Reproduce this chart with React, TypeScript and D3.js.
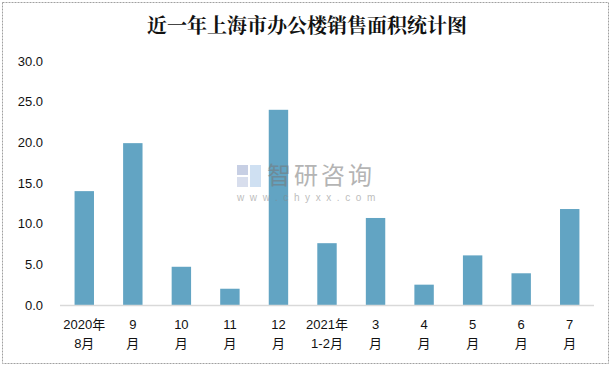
import React, { useEffect, useRef } from 'react';
import * as d3 from 'd3';

const categories = ['2020年\n8月', '9\n月', '10\n月', '11\n月', '12\n月', '2021年\n1-2月', '3\n月', '4\n月', '5\n月', '6\n月', '7\n月'];
const values = [14.0, 19.9, 4.7, 2.0, 24.0, 7.6, 10.7, 2.5, 6.1, 3.9, 11.8];
const yTicks = [0, 5, 10, 15, 20, 25, 30];
const title = '近一年上海市办公楼销售面积统计图';

const W = 614;
const H = 367;

const App = () => {
  const svgRef = useRef(null);

  useEffect(() => {
    const svg = d3.select(svgRef.current);
    svg.selectAll('*').remove();

    const left = 60, right = 594, top = 61, bottom = 305;
    const font = '"Liberation Sans", Arial, sans-serif';

    // outer frame
    svg.append('rect')
      .attr('x', 2.5).attr('y', 2.5)
      .attr('width', 606).attr('height', 361)
      .attr('fill', '#fff')
      .attr('stroke', '#a0a0a0')
      .attr('stroke-dasharray', '2,1');

    svg.append('text')
      .attr('x', W / 2).attr('y', 33)
      .attr('text-anchor', 'middle')
      .attr('font-family', '"Noto Serif CJK SC", "Noto Sans CJK SC", serif')
      .attr('font-weight', 'bold')
      .attr('font-size', 20)
      .attr('fill', '#111')
      .text(title);

    const x = d3.scaleBand()
      .domain(categories)
      .range([left, right])
      .paddingInner(0.6)
      .paddingOuter(0.3);

    const y = d3.scaleLinear().domain([0, 30]).range([bottom, top]);

    // y tick labels
    svg.append('g')
      .selectAll('text')
      .data(yTicks)
      .enter().append('text')
      .attr('x', 43)
      .attr('y', d => y(d))
      .attr('dy', '0.35em')
      .attr('text-anchor', 'end')
      .attr('font-family', font)
      .attr('font-size', 13)
      .attr('fill', '#111')
      .text(d => d.toFixed(1));

    // bars
    svg.append('g')
      .selectAll('rect')
      .data(values)
      .enter().append('rect')
      .attr('x', (d, i) => x(categories[i]))
      .attr('y', d => y(d))
      .attr('width', x.bandwidth())
      .attr('height', d => bottom - y(d))
      .attr('fill', '#62a4c3');

    // baseline
    svg.append('line')
      .attr('x1', left).attr('x2', right)
      .attr('y1', bottom + 0.5).attr('y2', bottom + 0.5)
      .attr('stroke', '#d9d9d9')
      .attr('stroke-width', 1.5);

    // x labels (two lines)
    const xl = svg.append('g')
      .selectAll('text')
      .data(categories)
      .enter().append('text')
      .attr('text-anchor', 'middle')
      .attr('font-family', '"Liberation Sans", "Noto Sans CJK SC", sans-serif')
      .attr('font-size', 13)
      .attr('fill', '#111');
    xl.each(function (d) {
      const t = d3.select(this);
      const cx = x(d) + x.bandwidth() / 2;
      d.split('\n').forEach((line, k) => {
        t.append('tspan')
          .attr('x', cx)
          .attr('y', 329 + k * 19)
          .text(line);
      });
    });

    // watermark
    const wm = svg.append('g').attr('opacity', 0.55);
    wm.append('rect').attr('x', 237).attr('y', 165).attr('width', 11).attr('height', 10).attr('fill', '#9aa9cf');
    wm.append('rect').attr('x', 237).attr('y', 177).attr('width', 11).attr('height', 10).attr('fill', '#b9c4e0');
    wm.append('rect').attr('x', 250).attr('y', 165).attr('width', 11).attr('height', 22).attr('fill', '#a9c8e8');
    wm.append('text')
      .attr('x', 267).attr('y', 184)
      .attr('font-family', '"Noto Sans CJK SC", sans-serif')
      .attr('font-size', 24)
      .attr('letter-spacing', 3)
      .attr('fill', '#777')
      .text('智研咨询');
    wm.append('text')
      .attr('x', 237).attr('y', 201)
      .attr('font-family', font)
      .attr('font-size', 10)
      .attr('letter-spacing', 5.6)
      .attr('fill', '#888')
      .text('www.chyxx.com');
  }, []);

  return (
    <svg ref={svgRef} width={W} height={H} style={{ position: 'absolute', left: 0, top: 0 }} />
  );
};

export default App;
